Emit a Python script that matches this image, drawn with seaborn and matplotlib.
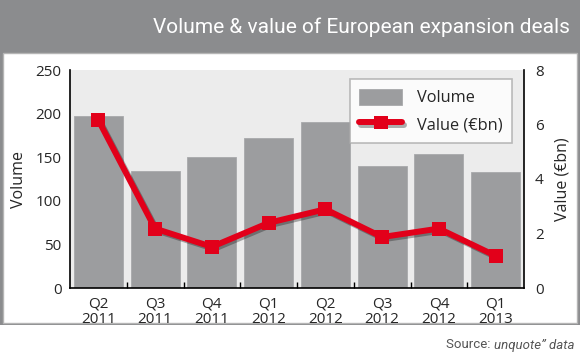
import numpy as np
import pandas as pd
import seaborn as sns
import matplotlib.pyplot as plt
import matplotlib.patheffects as pe
from matplotlib.patches import Rectangle
from matplotlib.ticker import FixedLocator

quarters = ['Q2\n2011', 'Q3\n2011', 'Q4\n2011', 'Q1\n2012',
            'Q2\n2012', 'Q3\n2012', 'Q4\n2012', 'Q1\n2013']
volume = [197, 134, 150, 172, 190, 140, 154, 133]
value_bn = [6.16, 2.18, 1.51, 2.39, 2.89, 1.87, 2.18, 1.18]

sns.set_theme(style='white')
plt.rcParams['font.family'] = ['Open Sans', 'DejaVu Sans']
narrow = ['Liberation Sans Narrow', 'Roboto', 'DejaVu Sans']

df = pd.DataFrame({'quarter': quarters, 'volume': volume,
                   'value': value_bn, 'pos': np.arange(len(quarters))})

fig = plt.figure(figsize=(5.8, 3.58), dpi=100)
fig.patch.set_facecolor('white')

# header bar and white panel
fig.add_artist(Rectangle((0, 0), 1, 1, transform=fig.transFigure,
                         facecolor='#8b8c8e', edgecolor='none', zorder=-3))
fig.add_artist(Rectangle((3 / 580, 1 - 323 / 358), 574 / 580, 270 / 358,
                         transform=fig.transFigure, facecolor='white',
                         edgecolor='#b5b5b5', lw=1, zorder=-2))
fig.add_artist(Rectangle((0, 0), 1, 1 - 325 / 358, transform=fig.transFigure,
                         facecolor='white', edgecolor='none', zorder=-2))
fig.text(0.983, 1 - 27 / 358, 'Volume & value of European expansion deals',
         ha='right', va='center', color='white', fontsize=15, family=narrow)
src = fig.text(0.99, 1 - 345 / 358, 'unquote\u201d data', ha='right',
               va='center', color='#555555', fontsize=9.5, style='italic',
               family=narrow)
fig.canvas.draw()
bb = src.get_window_extent().transformed(fig.transFigure.inverted())
fig.text(bb.x0, 1 - 345 / 358, 'Source: ', ha='right', va='center',
         color='#555555', fontsize=9.5, family=narrow)

ax = fig.add_axes([70 / 580, 1 - 288 / 358, 454 / 580, 218 / 358])
ax.set_facecolor('#ececec')
sns.barplot(data=df, x='quarter', y='volume', color='#9c9d9f', width=0.86,
            saturation=1, edgecolor='#a8a9ab', linewidth=0.6, ax=ax,
            label='Volume')
if ax.get_legend() is not None:
    ax.get_legend().remove()
ax.set_xlim(-0.5, len(quarters) - 0.5)
ax.set_ylim(0, 250)
ax.set_yticks([0, 50, 100, 150, 200, 250])
ax.set_xlabel('')
ax.set_ylabel('Volume', fontsize=11.5, labelpad=6)
ax.tick_params(axis='y', length=0, labelsize=11, pad=6)
ax.tick_params(axis='x', length=0, labelsize=11, pad=6)
ax.xaxis.set_minor_locator(FixedLocator(np.arange(0.5, len(quarters) - 1, 1)))
ax.tick_params(axis='x', which='minor', direction='in', length=4,
               width=1, color='black', bottom=True)
for lbl in ax.get_xticklabels():
    lbl.set_linespacing(1.05)
for s in ['left', 'bottom']:
    ax.spines[s].set_color('black')
    ax.spines[s].set_linewidth(1.2)
ax.spines['top'].set_visible(False)
ax.spines['right'].set_visible(False)

ax2 = ax.twinx()
sns.lineplot(data=df, x='pos', y='value', color='#e2001a', lw=4.3,
             marker='s', markersize=10, markeredgewidth=0, ax=ax2,
             label='Value (\u20acbn)', legend=False,
             path_effects=[pe.SimpleLineShadow(offset=(1.5, -1.5),
                                               alpha=0.35), pe.Normal()])
ax2.set_ylim(0, 8)
ax2.set_yticks([0, 2, 4, 6, 8])
ax2.set_xlim(-0.5, len(quarters) - 0.5)
ax2.set_ylabel('Value (\u20acbn)', fontsize=11.5, labelpad=8)
ax2.tick_params(axis='y', length=0, labelsize=11, pad=8)
ax2.spines['top'].set_visible(False)
ax2.spines['left'].set_visible(False)
ax2.spines['bottom'].set_visible(False)
ax2.spines['right'].set_color('black')
ax2.spines['right'].set_linewidth(1.2)

h1, l1 = ax.get_legend_handles_labels()
h2, l2 = ax2.get_legend_handles_labels()
leg = ax2.legend(h1 + h2, l1 + l2, loc='upper right',
                 bbox_to_anchor=(0.974, 0.96), borderaxespad=0,
                 fontsize=11.8, frameon=True, fancybox=False, handlelength=2.6,
                 handleheight=1.2, borderpad=0.6, labelspacing=0.55,
                 handletextpad=0.9)
leg.get_frame().set_edgecolor('#aaaaaa')
leg.get_frame().set_linewidth(1.2)

fig.savefig('out.png', dpi=100)
